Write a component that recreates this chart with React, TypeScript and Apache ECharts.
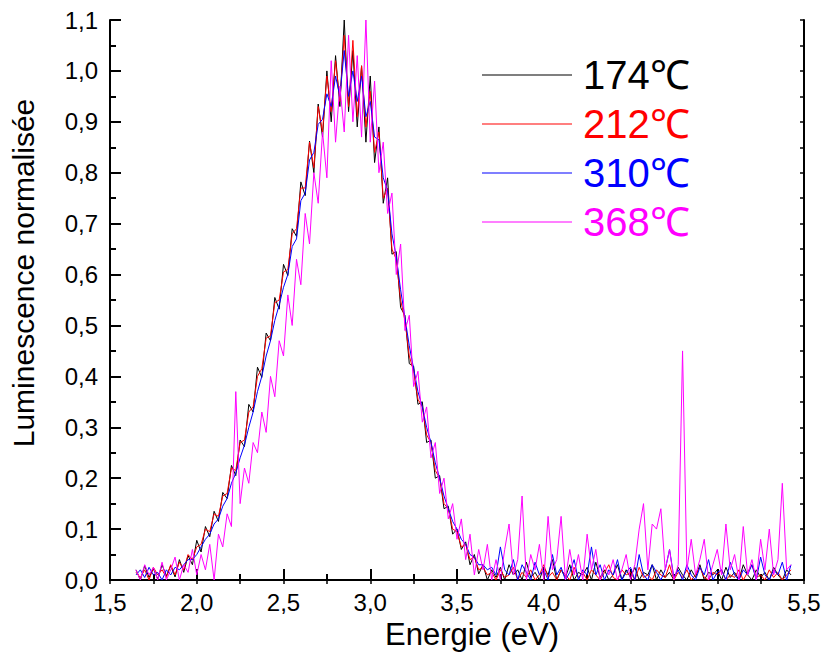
import React, { useEffect, useRef } from "react";
import * as echarts from "echarts";

// Energy sampling grid (eV)
const E_START = 1.65;
const E_STEP = 0.025;

const seriesNames = ["174\u2103", "212\u2103", "310\u2103", "368\u2103"];
const seriesColors = ["#000000", "#ff0000", "#0000ff", "#ff00ff"];

const lum174 = [
  .020, .000, .028, .005, .022, .002, .030, .008, .028, .006,
  .040, .015, .048, .030, .078, .055, .105, .085, .135, .115,
  .172, .160, .225, .205, .275, .262, .345, .330, .418, .398,
  .485, .470, .555, .532, .620, .598, .690, .675, .782, .755,
  .862, .80, .935, .87, 1.00, .90, 1.03, .93, 1.10, .92,
  1.04, .89, 1.01, .86, .99, .82, .89, .74, .79, .64,
  .645, .535, .52, .425, .42, .345, .35, .27, .275, .20,
  .205, .14, .145, .09, .10, .06, .075, .03, .05, .012,
  .03, .00, .02,
  .005, .025, .00, .03, .01, .02, .00, .035, .005, .015,
  .00, .025, .01, .04, .00, .02, .005, .03, .00, .015,
  .01, .025, .00, .035, .005, .02, .00, .01, .03, .00,
  .02, .005, .025, .00, .015, .01, .03, .00, .02, .005,
  .015, .00, .025, .01, .00, .02, .005, .03, .00, .015,
  .01, .02, .00, .025, .005, .015, .00, .03, .01, .00,
  .02, .005, .015, .00, .025, .01, .00, .02, .01,
];

const lum212 = [
  .015, .005, .02, .00, .025, .01, .02, .005, .03, .01,
  .035, .02, .05, .04, .065, .07, .10, .095, .13, .125,
  .165, .17, .22, .215, .27, .275, .33, .34, .40, .415,
  .475, .48, .545, .55, .605, .61, .68, .69, .77, .77,
  .86, .81, .93, .88, .99, .92, 1.02, .94, 1.07, .93,
  1.06, .91, 1.01, .89, .96, .84, .88, .75, .77, .65,
  .63, .55, .51, .44, .41, .355, .34, .285, .27, .215,
  .20, .15, .14, .10, .095, .065, .07, .04, .045, .02,
  .025, .01, .015,
  .00, .02, .005, .01, .025, .00, .015, .005, .02, .00,
  .01, .03, .005, .015, .00, .02, .01, .00, .025, .005,
  .015, .00, .02, .01, .00, .015, .03, .005, .00, .02,
  .01, .015, .00, .025, .005, .01, .00, .02, .01, .005,
  .03, .00, .015, .005, .02, .00, .01, .025, .005, .00,
  .015, .01, .02, .00, .01, .005, .02, .00, .015, .03,
  .005, .01, .00, .02, .005, .015, .00, .01, .02,
];

const lum310 = [
  .01, .02, .005, .025, .01, .015, .00, .02, .01, .025,
  .02, .03, .04, .04, .05, .065, .08, .09, .11, .12,
  .145, .16, .19, .21, .24, .265, .30, .33, .37, .40,
  .44, .47, .51, .54, .575, .60, .655, .67, .745, .76,
  .825, .84, .895, .905, .955, .93, .99, .95, 1.04, .95,
  1.00, .94, .99, .91, .94, .87, .865, .79, .765, .68,
  .635, .57, .515, .46, .415, .37, .34, .30, .27, .23,
  .20, .165, .14, .115, .10, .08, .07, .05, .045, .03,
  .03, .02, .025,
  .01, .065, .02, .01, .04, .00, .03, .015, .00, .035,
  .01, .02, .00, .05, .01, .025, .00, .015, .04, .00,
  .02, .01, .065, .01, .03, .00, .02, .01, .04, .00,
  .015, .025, .00, .05, .01, .00, .03, .015, .00, .02,
  .06, .005, .02, .00, .03, .01, .00, .025, .01, .04,
  .00, .015, .02, .00, .035, .01, .00, .02, .01, .03,
  .00, .045, .01, .00, .02, .01, .035, .00, .03,
];

const lum368 = [
  .02, .00, .03, .01, .025, .00, .035, .00, .02, .045,
  .00, .03, .015, .06, .01, .05, .02, .07, .00, .09,
  .065, .13, .105, .37, .15, .22, .19, .27, .25, .33,
  .29, .40, .36, .47, .44, .56, .50, .63, .58, .72,
  .66, .80, .74, .88, .79, 1.02, .86, .97, .88, 1.07,
  .90, 1.03, .87, 1.10, .86, .98, .80, .86, .72, .76,
  .60, .66, .49, .52, .38, .41, .31, .34, .24, .27,
  .17, .20, .12, .15, .08, .12, .04, .09, .01, .06,
  .02, .07, .00,
  .04, .00, .06, .11, .01, .04, .165, .00, .05, .02,
  .07, .00, .125, .02, .04, .125, .00, .06, .01, .05,
  .00, .09, .02, .06, .00, .03, .01, .04, .00, .02,
  .05, .00, .03, .10, .15, .02, .11, .10, .14, .02,
  .06, .00, .03, .45, .02, .08, .01, .04, .08, .00,
  .03, .06, .01, .11, .02, .05, .00, .105, .01, .04,
  .00, .08, .02, .10, .01, .04, .19, .02, .03,
];

const allValues = [lum174, lum212, lum310, lum368];

const FONT = "'Liberation Sans', Arial, Helvetica, sans-serif";
const comma = (v: number) => v.toFixed(1).replace(".", ",");

export default function App() {
  const ref = useRef<HTMLDivElement>(null);

  useEffect(() => {
    if (!ref.current) return;
    const chart = echarts.init(ref.current, undefined, { renderer: "svg" });

    const axisLineStyle = { color: "#000", width: 2 };

    const series = allValues.map((vals, k) => ({
      name: seriesNames[k],
      type: "line",
      data: vals.map((v, i) => [+(E_START + i * E_STEP).toFixed(3), v]),
      showSymbol: false,
      symbol: "none",
      lineStyle: { color: seriesColors[k], width: 1 },
      itemStyle: { color: seriesColors[k] },
      emphasis: { disabled: true },
      clip: true,
    }));

    chart.setOption({
      animation: false,
      textStyle: { fontFamily: FONT },
      grid: { left: 107, right: 20, top: 20, bottom: 79, containLabel: false },
      legend: {
        left: 482,
        top: 55,
        orient: "vertical",
        padding: 0,
        icon: "rect",
        itemWidth: 90,
        itemHeight: 1.2,
        itemGap: 9,
        selectedMode: false,
        data: seriesNames.map((n, k) => ({
          name: n,
          textStyle: { color: seriesColors[k] },
        })),
        textStyle: {
          fontSize: 40,
          lineHeight: 40,
          fontFamily: FONT,
          padding: [0, 0, 0, 6],
        },
      },
      xAxis: [
        {
          type: "value",
          position: "bottom",
          min: 1.5,
          max: 5.5,
          interval: 0.5,
          axisLine: { show: true, lineStyle: axisLineStyle },
          axisTick: { show: true, inside: true, length: 11, lineStyle: axisLineStyle },
          minorTick: { show: true, splitNumber: 2, length: 6, lineStyle: axisLineStyle },
          splitLine: { show: false },
          axisLabel: { fontSize: 24, color: "#000", margin: 10, formatter: comma },
          name: "Energie (eV)",
          nameLocation: "middle",
          nameGap: 36,
          nameTextStyle: { fontSize: 31, color: "#000", padding: [0, 0, 0, 30] },
        },
        {
          type: "value",
          position: "top",
          min: 1.5,
          max: 5.5,
          interval: 0.25,
          axisLine: { show: true, lineStyle: axisLineStyle },
          axisTick: { show: true, inside: true, length: 4, lineStyle: { color: "#000", width: 1.5 } },
          splitLine: { show: false },
          axisLabel: { show: false },
        },
      ],
      yAxis: [
        {
          type: "value",
          position: "left",
          min: 0,
          max: 1.1,
          interval: 0.1,
          axisLine: { show: true, lineStyle: axisLineStyle },
          axisTick: { show: true, inside: true, length: 11, lineStyle: axisLineStyle },
          minorTick: { show: true, splitNumber: 2, length: 6, lineStyle: axisLineStyle },
          splitLine: { show: false },
          axisLabel: { fontSize: 24, color: "#000", margin: 12, formatter: comma },
          name: "Luminescence normalisée",
          nameLocation: "middle",
          nameGap: 72,
          nameTextStyle: { fontSize: 30, color: "#000", padding: [0, 0, 0, 54] },
        },
        {
          type: "value",
          position: "right",
          min: 0,
          max: 1.1,
          interval: 0.05,
          axisLine: { show: true, lineStyle: axisLineStyle },
          axisTick: { show: true, inside: true, length: 4, lineStyle: { color: "#000", width: 1.5 } },
          splitLine: { show: false },
          axisLabel: { show: false },
        },
      ],
      series,
    });

    return () => chart.dispose();
  }, []);

  return (
    <div
      ref={ref}
      style={{ position: "absolute", left: 0, top: 0, width: 824, height: 659, background: "#fff" }}
    />
  );
}
